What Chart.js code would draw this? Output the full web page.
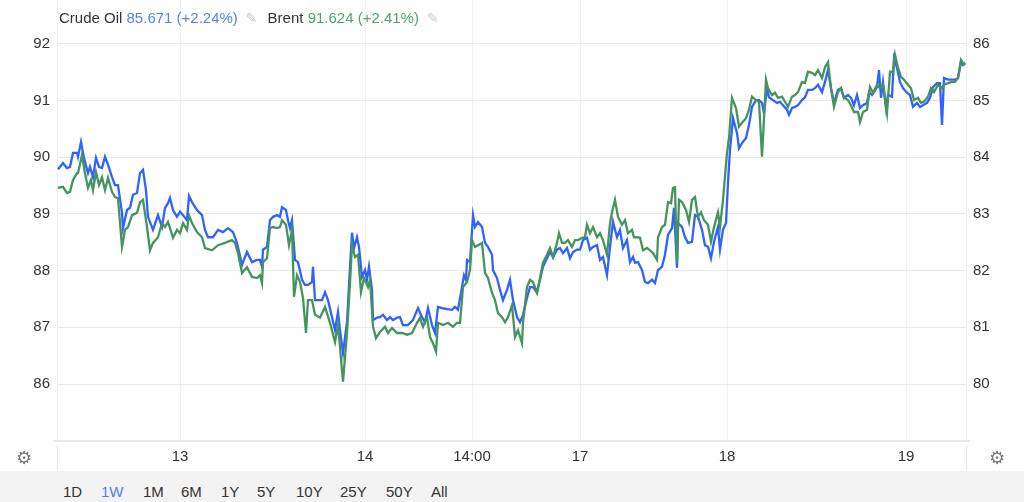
<!DOCTYPE html>
<html lang="en">
<head>
    <meta charset="UTF-8">
    <title>Crude Oil vs Brent</title>
    <script src="https://cdn.jsdelivr.net/npm/chart.js@4.4.0/dist/chart.umd.min.js"></script>
    <style>
        body {
            margin: 0;
            width: 1024px;
            height: 502px;
            overflow: hidden;
            background: #fff;
            font-family: "Liberation Sans", Arial, sans-serif;
            color: #333;
        }
        #wrap {
            position: absolute;
            left: 0;
            top: 0;
            width: 1024px;
            height: 471px;
        }
        .legend {
            position: absolute;
            left: 59px;
            top: 9px;
            font-size: 15px;
            white-space: nowrap;
        }
        .legend .blue { color: #5b80f3; }
        .legend .green { color: #55a26f; }
        .legend .pen { color: #c8c8c8; font-family: "DejaVu Sans"; font-size: 14px; margin: 0 10px 0 8px; }
        .gear {
            position: absolute;
            top: 447px;
            color: #777;
            font-family: "DejaVu Sans";
            font-size: 18px;
        }
        .rule { position: absolute; background: #e8e8e8; }
        .bar {
            position: absolute;
            left: 0;
            top: 471px;
            width: 1024px;
            height: 31px;
            background: #f3f3f3;
        }
        .bar span {
            position: absolute;
            top: 12px;
            font-size: 15px;
            color: #333;
        }
    </style>
</head>
<body>
    <div id="wrap">
        <canvas id="oilChart" width="1024" height="471"></canvas>
    </div>
    <div class="legend">
        Crude Oil <span class="blue">85.671 (+2.24%)</span><span class="pen">&#9998;</span>Brent <span class="green">91.624 (+2.41%)</span><span class="pen">&#9998;</span>
    </div>
    <div class="rule" style="left:53px; top:440px; width:917px; height:2px;"></div>
    <div class="rule" style="left:57px; top:446px; width:1px; height:25px;"></div>
    <div class="rule" style="left:966px; top:446px; width:1px; height:25px;"></div>
    <div class="gear" style="left:16px;">&#9881;</div>
    <div class="gear" style="left:989px;">&#9881;</div>
    <div class="bar" id="ranges"></div>

    <script>
        // bar index along the trading-time axis (gaps for closed hours removed)
        const crudeBars = [1,6,10,13,16,20,21,24,27,31,33,36,39,42,45,48,51,55,58,61,65,66,70,73,76,80,83,86,89,91,96,101,105,108,111,113,116,120,123,126,130,132,135,140,145,148,151,156,161,166,171,176,180,185,190,195,200,203,205,206,210,213,216,220,223,225,229,231,233,235,238,241,245,248,251,255,256,258,261,265,268,271,275,278,281,283,286,290,293,295,297,300,302,305,308,310,312,315,316,320,323,326,330,333,336,340,343,346,351,356,361,365,368,371,375,378,381,385,390,395,398,401,405,407,409,410,413,416,418,421,425,428,431,435,436,440,443,446,450,453,456,460,463,466,470,473,476,480,483,486,490,493,496,500,503,506,510,513,516,520,523,526,530,533,536,540,543,546,550,553,556,560,563,566,570,573,576,578,581,585,588,591,595,598,601,605,608,611,615,617,620,621,625,628,631,635,638,641,645,648,651,654,657,661,663,666,669,671,673,676,680,682,685,689,692,695,699,702,705,707,710,712,716,720,723,726,730,732,735,738,741,745,748,751,755,758,761,765,768,771,774,777,781,784,787,791,794,797,800,803,806,810,812,815,817,820,822,824,826,829,831,835,837,840,843,846,850,853,856,860,863,866,870,873,876,880,883,885,887,891,895,898,901,904,906,908];
        const crudeVals = [83.79,83.90,83.81,83.83,84.08,84.08,84.01,84.27,83.99,83.72,83.83,83.65,83.99,83.83,83.81,84.01,83.87,83.65,83.51,83.51,83.02,82.75,83.07,83.11,83.34,83.37,83.72,83.78,83.42,82.95,82.72,82.98,82.77,83.11,83.19,83.28,83.07,82.95,83.04,82.98,82.89,83.32,83.21,83.07,82.98,82.72,82.59,82.59,82.72,82.68,82.75,82.68,82.49,82.10,82.33,82.15,82.19,82.19,82.07,82.37,82.42,82.89,82.95,82.98,82.95,83.12,83.07,82.89,82.75,82.89,82.19,82.15,81.84,81.75,81.75,81.80,82.07,81.48,81.48,81.48,81.62,81.48,81.18,80.95,81.27,80.95,80.55,81.09,82.07,82.67,82.40,82.59,82.42,81.89,82.01,81.84,82.07,81.66,81.13,81.17,81.18,81.22,81.13,81.18,81.13,81.17,81.18,81.04,81.04,81.13,81.34,81.18,81.09,81.34,81.04,80.90,81.36,81.34,81.32,81.31,81.36,81.31,81.71,81.92,81.84,82.19,82.15,82.98,82.77,82.86,82.77,82.49,82.42,82.28,82.01,81.87,81.66,81.48,81.66,81.84,81.48,81.18,81.09,81.22,81.52,81.71,81.71,81.61,81.84,82.07,82.22,82.33,82.24,82.37,82.40,82.31,82.40,82.22,82.33,82.37,82.37,82.54,82.58,82.37,82.42,82.45,82.19,82.24,81.92,82.42,82.86,82.59,82.72,82.40,82.54,82.15,82.24,82.14,82.15,82.01,81.80,81.78,81.84,81.78,82.01,82.07,82.28,82.63,82.75,83.11,82.05,82.84,82.77,82.59,82.49,82.51,82.98,82.95,82.72,82.45,82.42,82.22,82.51,82.77,82.37,82.72,82.84,83.55,84.13,84.69,84.43,84.16,84.25,84.34,84.57,84.89,85.01,85.01,84.96,84.78,85.22,85.06,85.01,84.96,84.98,84.92,84.84,84.75,84.87,84.89,84.92,85.01,85.06,85.19,85.19,85.22,85.28,85.15,85.33,85.54,85.22,84.96,85.19,85.22,85.05,85.10,85.05,84.92,85.10,84.87,84.92,84.96,85.15,85.10,85.15,85.24,85.54,85.05,85.33,84.87,85.10,85.07,85.75,85.58,85.33,85.22,85.14,85.10,84.89,84.96,84.89,84.92,84.96,85.05,85.24,85.31,85.31,84.57,85.40,85.37,85.37,85.37,85.40,85.68,85.63,85.671];

        const brentBars = [1,6,10,13,16,20,21,25,28,31,34,36,39,42,45,48,51,55,58,61,65,68,71,75,80,83,86,90,93,96,101,105,108,111,116,120,123,126,130,132,135,140,145,148,155,161,168,175,178,181,185,190,195,200,203,205,206,210,213,216,220,223,225,229,232,235,237,240,243,246,249,251,255,258,263,268,273,278,281,283,286,290,293,295,298,301,304,307,311,313,316,319,323,328,331,335,340,345,350,355,360,363,366,370,373,376,379,381,386,391,396,400,403,406,410,413,415,418,421,425,428,431,435,438,441,445,448,451,455,458,461,465,466,470,473,476,480,483,486,490,493,496,500,502,505,508,511,515,518,521,525,528,530,533,536,540,543,546,550,553,555,558,561,565,568,571,575,577,580,583,586,590,593,596,600,601,605,608,611,614,616,618,620,622,625,629,632,635,638,641,644,647,651,654,657,661,663,666,670,672,675,679,682,685,689,692,695,699,702,705,709,711,715,718,721,725,728,731,735,738,741,745,748,751,755,758,761,765,768,771,774,777,781,784,787,791,794,797,801,803,806,810,813,816,820,823,826,830,833,836,838,841,844,847,851,854,857,861,864,867,871,874,877,881,885,887,891,895,898,901,904,906,908];
        const brentVals = [89.46,89.48,89.37,89.39,89.60,89.72,89.72,90.04,89.72,89.46,89.60,89.42,89.74,89.51,89.65,89.42,89.64,89.39,89.30,89.28,88.42,88.72,88.77,88.98,89.02,89.21,89.25,88.77,88.36,88.49,88.59,88.84,88.77,88.86,88.58,88.72,88.66,88.84,88.72,88.98,88.84,88.68,88.59,88.40,88.36,88.45,88.49,88.54,88.49,88.31,87.96,88.06,87.89,87.87,87.92,87.78,88.15,88.22,88.75,88.77,88.75,88.77,88.89,88.81,88.45,88.72,87.54,87.92,87.80,87.52,86.90,87.48,87.48,87.22,87.17,87.36,87.08,86.74,87.04,86.65,86.04,86.90,87.78,88.45,88.24,88.28,87.62,87.87,87.71,87.84,87.01,86.81,86.92,87.01,86.90,86.99,86.90,86.90,86.87,86.90,87.08,87.17,87.01,87.18,86.83,86.72,86.57,87.08,87.04,87.08,87.01,87.08,87.08,87.71,87.80,88.01,88.54,88.42,88.45,88.49,87.96,87.87,87.61,87.48,87.25,87.18,87.09,87.18,87.39,86.83,86.95,86.72,87.08,87.71,87.84,87.80,87.61,87.87,88.14,88.28,88.40,88.24,88.49,88.66,88.49,88.49,88.54,88.42,88.54,88.54,88.58,88.59,88.81,88.66,88.77,88.59,88.66,88.54,88.28,88.84,89.03,89.25,88.95,88.81,88.89,88.66,88.72,88.59,88.59,88.58,88.36,88.40,88.36,88.31,88.19,88.59,88.77,88.81,89.21,89.19,89.46,89.47,88.14,89.25,89.21,89.07,88.86,89.25,89.30,88.95,89.03,88.89,88.81,88.51,88.77,89.03,88.77,89.25,90.08,90.34,91.05,90.87,90.54,90.61,90.69,90.84,91.07,91.01,90.98,90.01,91.37,91.22,91.10,91.14,91.05,91.07,90.98,90.89,91.07,91.10,91.15,91.33,91.31,91.51,91.49,91.45,91.54,91.40,91.59,91.68,91.22,90.89,91.15,91.22,91.05,91.01,90.92,90.80,90.80,90.62,90.80,90.84,91.24,91.14,91.28,91.22,91.28,90.78,91.51,91.51,91.81,91.58,91.42,91.37,91.28,91.22,91.01,91.05,90.96,90.98,91.07,91.22,91.15,91.28,91.22,91.28,91.31,91.33,91.33,91.40,91.72,91.66,91.624];

        const xTickBars = [123, 308, 415, 523, 670, 849];
        const xTickLabels = ['13', '14', '14:00', '17', '18', '19'];
        const brentTicks = [86, 87, 88, 89, 90, 91, 92];
        const crudeTicks = [80, 81, 82, 83, 84, 85, 86];
        const rangeLabels = ['1D', '1W', '1M', '6M', '1Y', '5Y', '10Y', '25Y', '50Y', 'All'];

        const bar = document.getElementById('ranges');
        const rangeLeft = [63, 101, 143, 181, 221, 257, 296, 340, 386, 431];
        rangeLabels.forEach((t, i) => {
            const s = document.createElement('span');
            s.textContent = t;
            s.style.left = rangeLeft[i] + 'px';
            if (t === '1W') s.style.color = '#4d7cfe';
            bar.appendChild(s);
        });

        const toPoints = (xs, ys) => xs.map((x, i) => ({ x: x, y: ys[i] }));
        const tickFont = { family: '"Liberation Sans", Arial, sans-serif', size: 15 };

        function fixWidth(w) {
            return function (scale) {
                scale.width = w;
                scale.paddingTop = 0;
                scale.paddingBottom = 0;
            };
        }

        new Chart(document.getElementById('oilChart'), {
            type: 'line',
            data: {
                datasets: [
                    {
                        label: 'Brent',
                        data: toPoints(brentBars, brentVals),
                        borderColor: '#45945e',
                        borderWidth: 2.3,
                        pointRadius: 0,
                        tension: 0,
                        yAxisID: 'y'
                    },
                    {
                        label: 'Crude Oil',
                        data: toPoints(crudeBars, crudeVals),
                        borderColor: '#2f62ff',
                        borderWidth: 2.3,
                        pointRadius: 0,
                        tension: 0,
                        yAxisID: 'y1'
                    }
                ]
            },
            options: {
                responsive: false,
                animation: false,
                layout: { padding: 0 },
                plugins: {
                    legend: { display: false },
                    tooltip: { enabled: false }
                },
                scales: {
                    x: {
                        type: 'linear',
                        min: 0,
                        max: 909,
                        afterBuildTicks: (scale) => {
                            scale.ticks = xTickBars.map(v => ({ value: v }));
                        },
                        afterFit: (scale) => {
                            scale.height = 31;
                            scale.paddingLeft = 0;
                            scale.paddingRight = 0;
                        },
                        ticks: {
                            autoSkip: false,
                            maxRotation: 0,
                            padding: 8,
                            color: '#333',
                            font: tickFont,
                            callback: (v, i) => xTickLabels[i]
                        },
                        grid: { color: '#eef2f4', drawTicks: false },
                        border: { display: false }
                    },
                    y: {
                        position: 'left',
                        min: 85.012,
                        max: 92.776,
                        afterBuildTicks: (scale) => {
                            scale.ticks = brentTicks.map(v => ({ value: v }));
                        },
                        afterFit: fixWidth(57),
                        ticks: { padding: 7, color: '#333', font: tickFont },
                        grid: { color: '#e8e8e8', drawTicks: false },
                        border: { color: '#eef2f4' }
                    },
                    y1: {
                        position: 'right',
                        min: 79.012,
                        max: 86.776,
                        afterBuildTicks: (scale) => {
                            scale.ticks = crudeTicks.map(v => ({ value: v }));
                        },
                        afterFit: fixWidth(58),
                        ticks: { padding: 7, color: '#333', font: tickFont },
                        grid: { display: false, drawTicks: false },
                        border: { color: '#eef2f4' }
                    }
                }
            }
        });
    </script>
</body>
</html>
